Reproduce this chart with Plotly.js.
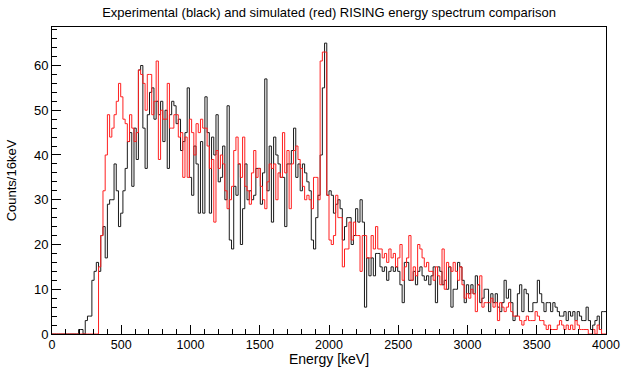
<!DOCTYPE html>
<html>
<head>
<meta charset="utf-8">
<script src="https://cdn.plot.ly/plotly-3.0.1.min.js"></script>
<style>html,body{margin:0;padding:0;background:#fff;}#chart{width:623px;height:367px;}</style>
</head>
<body>
<div id="chart"></div>
<script>
// Bin layout: 250 bins of 16 keV from 0 to 4000 keV
const binWidth = 16;
const nBins = 250;

// Experimental spectrum (black), counts per 16 keV bin
const experimental = [
  0,0,0,0,0,0,0,0,0,0,
  0,0,1,1,0,3,4,4,12,14,
  16,14,22,24,17,29,30,30,38,32,
  24,27,32,37,43,45,33,46,39,59,
  60,46,37,49,54,55,48,52,49,52,
  43,50,37,49,52,51,47,48,41,43,
  45,55,35,31,42,38,27,43,27,53,
  45,27,44,40,49,34,35,42,30,51,
  21,19,33,31,38,20,28,38,30,32,
  30,31,37,37,29,36,57,32,42,25,
  44,40,38,35,35,24,38,38,41,46,
  35,38,32,38,36,34,32,21,19,26,
  31,40,55,65,31,32,31,27,29,30,
  28,21,24,26,26,20,22,28,25,30,
  25,6,17,13,17,13,18,18,15,14,
  15,12,14,15,14,15,14,11,7,16,
  16,12,12,14,11,14,15,13,12,13,
  11,13,15,7,15,14,11,12,10,15,
  6,10,10,16,15,12,7,11,9,11,
  9,13,11,7,8,10,10,5,9,7,
  9,6,5,7,12,8,10,7,3,4,
  9,11,5,10,9,5,5,7,7,12,
  9,7,5,7,7,5,7,6,5,4,
  4,5,3,5,4,5,3,5,4,3,
  3,6,3,1,2,3,4,1,5,5
];

// Simulated spectrum (red), counts per 16 keV bin
const simulated = [
  0,0,0,0,0,0,0,0,0,0,
  0,0,0,0,0,0,0,0,0,0,
  0,15,22,32,40,49,44,46,49,52,
  56,53,48,47,43,49,46,43,45,59,
  58,56,50,58,58,49,52,61,39,50,
  48,48,56,46,46,49,49,44,45,35,
  44,35,48,45,40,47,45,48,46,46,
  42,37,39,25,41,37,40,38,32,28,
  30,33,41,44,38,35,44,33,32,29,
  36,41,35,37,33,30,28,34,38,37,
  38,30,36,35,45,36,41,28,38,41,
  42,39,37,33,30,31,30,28,35,35,
  30,61,63,63,31,21,20,22,31,26,
  26,15,19,19,25,21,25,22,22,14,
  22,22,17,17,22,19,24,19,19,17,
  18,16,19,17,18,15,17,20,12,15,
  17,22,12,15,13,20,19,17,15,16,
  14,14,12,15,13,11,19,10,16,15,
  14,16,14,12,15,11,8,9,8,10,
  9,5,11,13,6,7,7,7,8,6,
  7,3,7,6,5,6,7,5,4,4,
  4,3,2,3,4,3,3,3,5,4,
  3,3,2,1,2,1,1,1,2,3,
  2,1,2,1,2,1,3,2,1,1,
  1,1,0,0,1,0,2,1,0,0
];

const xTickVals = [0,500,1000,1500,2000,2500,3000,3500,4000];
const xTickText = ["0","500","1000","1500","2000","2500","3000","3500","4000"];
const yTickVals = [0,10,20,30,40,50,60];
const yTickText = ["0","10","20","30","40","50","60"];

function stepTrace(values, color) {
  const x = [], y = [];
  for (let i = 0; i < nBins; i++) { x.push(i * binWidth); y.push(values[i]); }
  x.push(nBins * binWidth); y.push(values[nBins - 1]);
  return {x: x, y: y, type: 'scatter', mode: 'lines',
          line: {shape: 'hv', color: color, width: 1}, hoverinfo: 'skip', showlegend: false};
}

const font = 'Liberation Sans, Arial, Helvetica, sans-serif';
const data = [stepTrace(experimental, '#1a1a1a'), stepTrace(simulated, '#ff2020')];
const layout = {
  width: 623, height: 367,
  margin: {l: 52, r: 17, t: 27, b: 33, pad: 0},
  paper_bgcolor: '#ffffff', plot_bgcolor: '#ffffff',
  font: {family: font, color: '#000000'},
  title: {text: 'Experimental (black) and simulated (red) RISING energy spectrum comparison',
          font: {family: font, size: 13, color: '#000000'},
          x: 0.5, xref: 'paper', xanchor: 'center', y: 0.967, yref: 'container', yanchor: 'middle'},
  xaxis: {range: [0, 4000], tickvals: xTickVals, ticktext: xTickText,
          ticks: 'inside', ticklen: 9, tickwidth: 1, tickcolor: '#000',
          minor: {dtick: 100, tick0: 0, ticks: 'inside', ticklen: 5, tickcolor: '#000', showgrid: false},
          showline: true, linecolor: '#000', linewidth: 1, mirror: true,
          showgrid: false, zeroline: false, tickfont: {family: font, size: 12.5},
          ticklabelstandoff: -1,
          title: {text: 'Energy [keV]', font: {family: font, size: 14}, standoff: 4}},
  yaxis: {range: [0, 68.6], tickvals: yTickVals, ticktext: yTickText,
          ticks: 'inside', ticklen: 9, tickwidth: 1, tickcolor: '#000',
          minor: {dtick: 2, tick0: 0, ticks: 'inside', ticklen: 5, tickcolor: '#000', showgrid: false},
          showline: true, linecolor: '#000', linewidth: 1, mirror: true,
          showgrid: false, zeroline: false, tickfont: {family: font, size: 13},
          title: {text: 'Counts/16keV', font: {family: font, size: 13}, standoff: 14}}
};
Plotly.newPlot('chart', data, layout, {displayModeBar: false, staticPlot: true});
</script>
</body>
</html>
